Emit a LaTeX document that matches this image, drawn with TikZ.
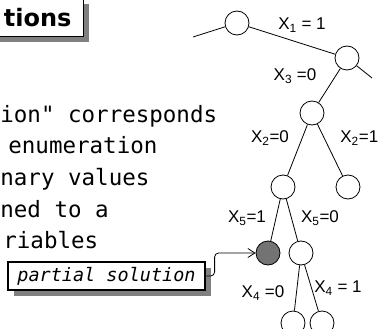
\documentclass[tikz,border=0pt]{standalone}
\usepackage{fontspec}
\setmainfont{Liberation Sans}
\setmonofont{DejaVu Sans Mono}
\newfontfamily\titlefont{DejaVu Sans}
\usetikzlibrary{arrows.meta,positioning,shadows}

\begin{document}
\begin{tikzpicture}[x=1pt, y=-1pt, line width=0.8pt,
  vnode/.style={circle, draw, minimum size=24pt, inner sep=0pt},
  lbl/.style={font=\fontsize{17}{17}\selectfont, inner sep=0pt},
  txt/.style={font=\ttfamily\fontsize{22.5}{22.5}\selectfont, anchor=base west, inner sep=0pt},
  shadowed/.style={draw, fill=white, line width=1.2pt,
    drop shadow={shadow xshift=6pt, shadow yshift=-6pt, fill=black!50, opacity=1}}]
  \useasboundingbox (0,0) rectangle (380,329);

  % heading, cut at the page edge
  \node (title) [shadowed, anchor=south east, inner xsep=12pt, inner ysep=10pt,
    font=\titlefont\bfseries\fontsize{24}{24}\selectfont] at (84,37) {tions};

  % text lines
  \node (l1) [txt] at (0,122) {ion" corresponds};
  \node (l2) [txt] at (8,153) {enumeration};
  \node (l3) [txt] at (0,185) {nary values};
  \node (l4) [txt] at (0,217) {ned to a};
  \node (l5) [txt] at (3,248) {riables};

  % tree
  \node (a) [vnode] at (237,23) {};
  \node (b) [vnode] at (347,58) {};
  \node (c) [vnode] at (312,113) {};
  \node (d) [vnode] at (283,187) {};
  \node (e) [vnode] at (348,187) {};
  \node (f) [vnode, fill=black!55] at (268,253) {};
  \node (g) [vnode] at (301,253) {};
  \node (h) [vnode] at (293,323) {};
  \node (i) [vnode] at (322,323) {};
  \coordinate (a0) at (193,37);
  \coordinate (b1) at (372,78);
  \draw (a0) -- (a);
  \draw (a) -- (b);
  \draw (b) -- (b1);
  \draw (b) -- (c);
  \draw (c) -- (d);
  \draw (c) -- (e);
  \draw (d) -- (f);
  \draw (d) -- (g);
  \draw (g) -- (h);
  \draw (g) -- (i);

  % branch labels
  \node (x1) [lbl] at (302,25) {X\textsubscript{1} = 1};
  \node (x3) [lbl] at (295,76) {X\textsubscript{3} =0};
  \node (x2a) [lbl] at (270,138) {X\textsubscript{2}=0};
  \node (x2b) [lbl, anchor=west] at (340,138) {X\textsubscript{2}=1};
  \node (x5a) [lbl] at (247,218) {X\textsubscript{5}=1};
  \node (x5b) [lbl] at (320,218) {X\textsubscript{5}=0};
  \node (x4a) [lbl] at (263,293) {X\textsubscript{4} =0};
  \node (x4b) [lbl] at (338,288) {X\textsubscript{4} = 1};

  % callout
  \node (psol) [shadowed, minimum width=197pt, minimum height=28pt, inner sep=0pt,
    font=\ttfamily\itshape\fontsize{18.5}{18.5}\selectfont] at (106.5,276) {partial solution};
  \draw[-{Straight Barb[length=7pt, width=9pt]}, rounded corners=4pt]
    (psol.east) -- ++(9,0) |- (f.west);
\end{tikzpicture}
\end{document}
